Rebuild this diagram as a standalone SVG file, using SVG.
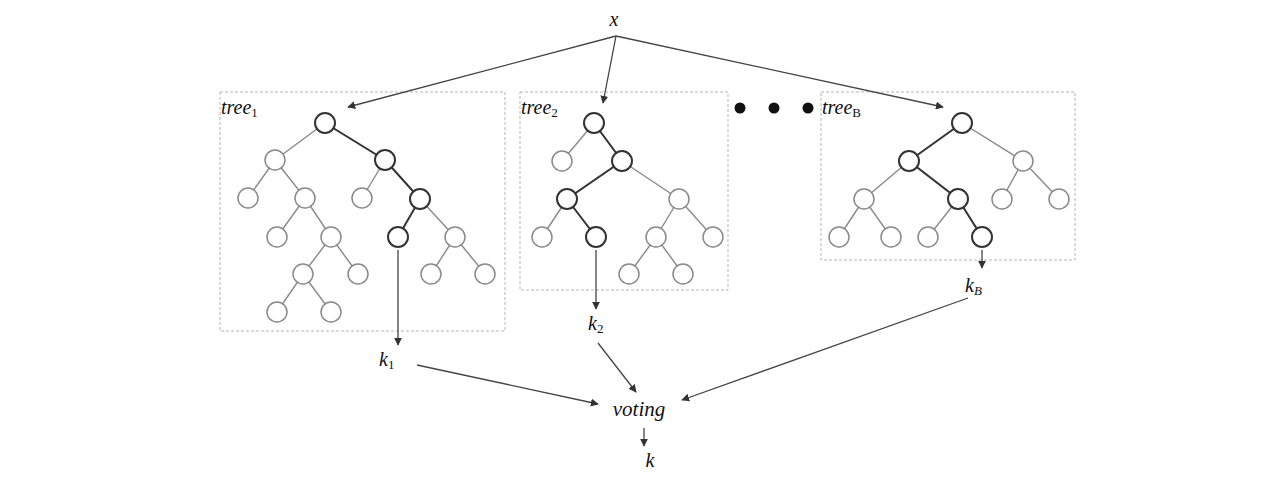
<svg xmlns="http://www.w3.org/2000/svg" width="1280" height="494" viewBox="0 0 1280 494">
<defs>
<marker id="ah" viewBox="0 0 10 10" refX="9" refY="5" markerWidth="8" markerHeight="8" markerUnits="userSpaceOnUse" orient="auto">
<path d="M0,0 L10,5 L0,10 z" fill="#333"/>
</marker>
<style>
.box{fill:none;stroke:#b5b5b5;stroke-width:1;stroke-dasharray:3 2}
.e{stroke:#8a8a8a;stroke-width:1.4;fill:none}
.eb{stroke:#333;stroke-width:2;fill:none}
.n{fill:#fff;stroke:#8a8a8a;stroke-width:1.5}
.nb{fill:#fff;stroke:#333;stroke-width:2}
.c{stroke:#444;stroke-width:1.3;fill:none;marker-end:url(#ah)}
.t{font-family:"Liberation Serif",serif;font-style:italic;fill:#111}
</style>
</defs>
<rect width="1280" height="494" fill="#fff"/>

<g id="x"><text class="t" x="614" y="26" font-size="20" text-anchor="middle">x</text></g>

<g id="tree1">
<rect class="box" x="220" y="92" width="285" height="239"/>
<text class="t" x="221" y="114" font-size="20">tree<tspan font-size="13" dy="3" font-style="normal">1</tspan></text>
<path class="e" d="M325,123 L275,160 M275,160 L248,198 M275,160 L305,198 M385,160 L362,198 M305,198 L277,237 M305,198 L331,237 M420,199 L455,237 M331,237 L303,274 M331,237 L358,274 M455,237 L431,274 M455,237 L485,274 M303,274 L277,312 M303,274 L331,312"/>
<path class="eb" d="M325,123 L385,160 L420,199 L398,237"/>
<circle class="n" cx="275" cy="160" r="10"/>
<circle class="n" cx="248" cy="198" r="10"/>
<circle class="n" cx="305" cy="198" r="10"/>
<circle class="n" cx="362" cy="198" r="10"/>
<circle class="n" cx="277" cy="237" r="10"/>
<circle class="n" cx="331" cy="237" r="10"/>
<circle class="n" cx="455" cy="237" r="10"/>
<circle class="n" cx="303" cy="274" r="10"/>
<circle class="n" cx="358" cy="274" r="10"/>
<circle class="n" cx="431" cy="274" r="10"/>
<circle class="n" cx="485" cy="274" r="10"/>
<circle class="n" cx="277" cy="312" r="10"/>
<circle class="n" cx="331" cy="312" r="10"/>
<circle class="nb" cx="325" cy="123" r="10"/>
<circle class="nb" cx="385" cy="160" r="10"/>
<circle class="nb" cx="420" cy="199" r="10"/>
<circle class="nb" cx="398" cy="237" r="10"/>
</g>

<g id="tree2">
<rect class="box" x="520" y="92" width="208" height="198"/>
<text class="t" x="521" y="114" font-size="20">tree<tspan font-size="13" dy="3" font-style="normal">2</tspan></text>
<path class="e" d="M594,123 L562,161 M622,161 L679,199 M567,199 L542,237 M679,199 L656,237 M679,199 L713,237 M656,237 L629,274 M656,237 L683,274"/>
<path class="eb" d="M594,123 L622,161 L567,199 L596,237"/>
<circle class="n" cx="562" cy="161" r="10"/>
<circle class="n" cx="679" cy="199" r="10"/>
<circle class="n" cx="542" cy="237" r="10"/>
<circle class="n" cx="656" cy="237" r="10"/>
<circle class="n" cx="713" cy="237" r="10"/>
<circle class="n" cx="629" cy="274" r="10"/>
<circle class="n" cx="683" cy="274" r="10"/>
<circle class="nb" cx="594" cy="123" r="10"/>
<circle class="nb" cx="622" cy="161" r="10"/>
<circle class="nb" cx="567" cy="199" r="10"/>
<circle class="nb" cx="596" cy="237" r="10"/>
</g>

<g id="dots">
<circle cx="740" cy="108" r="5.5" fill="#111"/>
<circle cx="774" cy="108" r="5.5" fill="#111"/>
<circle cx="808" cy="108" r="5.5" fill="#111"/>
</g>

<g id="treeB">
<rect class="box" x="821" y="92" width="254" height="168"/>
<text class="t" x="822" y="114" font-size="20">tree<tspan font-size="13" dy="3" font-style="normal">B</tspan></text>
<path class="e" d="M962,123 L1023,161 M909,161 L864,199 M864,199 L839,237 M864,199 L891,237 M958,199 L928,237 M1023,161 L1002,199 M1023,161 L1059,199"/>
<path class="eb" d="M962,123 L909,161 L958,199 L982,237"/>
<circle class="n" cx="1023" cy="161" r="10"/>
<circle class="n" cx="864" cy="199" r="10"/>
<circle class="n" cx="1002" cy="199" r="10"/>
<circle class="n" cx="1059" cy="199" r="10"/>
<circle class="n" cx="839" cy="237" r="10"/>
<circle class="n" cx="891" cy="237" r="10"/>
<circle class="n" cx="928" cy="237" r="10"/>
<circle class="nb" cx="962" cy="123" r="10"/>
<circle class="nb" cx="909" cy="161" r="10"/>
<circle class="nb" cx="958" cy="199" r="10"/>
<circle class="nb" cx="982" cy="237" r="10"/>
</g>

<g id="k1"><text class="t" x="379" y="366" font-size="20">k<tspan font-size="13" dy="3" font-style="normal">1</tspan></text></g>
<g id="k2"><text class="t" x="588" y="330" font-size="20">k<tspan font-size="13" dy="3" font-style="normal">2</tspan></text></g>
<g id="kB"><text class="t" x="965" y="292" font-size="20">k<tspan font-size="13" dy="3">B</tspan></text></g>
<g id="voting"><text class="t" x="639" y="416" font-size="21" text-anchor="middle">voting</text></g>
<g id="k"><text class="t" x="650" y="467" font-size="20" text-anchor="middle">k</text></g>

<g id="connectors">
<path class="c" d="M616,36 L348,107"/>
<path class="c" d="M616,36 L603,103"/>
<path class="c" d="M616,36 L943,107"/>
<path class="c" d="M398,250 L398,345"/>
<path class="c" d="M596,250 L596,309"/>
<path class="c" d="M982,250 L982,268"/>
<path class="c" d="M417,365 L598,404"/>
<path class="c" d="M598,343 L636,392"/>
<path class="c" d="M968,298 L682,400"/>
<path class="c" d="M644,428 L644,446"/>
</g>
</svg>
